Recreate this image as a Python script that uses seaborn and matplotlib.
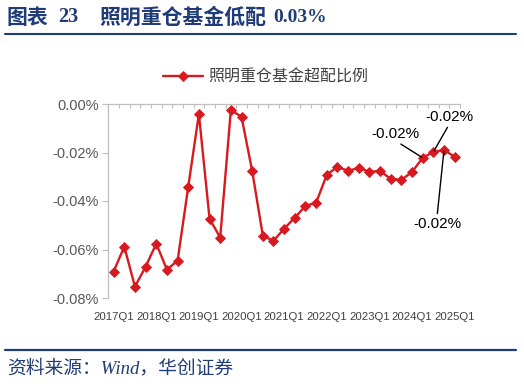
import matplotlib
matplotlib.use("Agg")
import matplotlib.pyplot as plt
import seaborn as sns
import pandas as pd
import numpy as np
from matplotlib.lines import Line2D
from matplotlib.ticker import FixedLocator

# ---------------- data ----------------
quarters = ["2017Q1", "2017Q2", "2017Q3", "2017Q4",
            "2018Q1", "2018Q2", "2018Q3", "2018Q4",
            "2019Q1", "2019Q2", "2019Q3", "2019Q4",
            "2020Q1", "2020Q2", "2020Q3", "2020Q4",
            "2021Q1", "2021Q2", "2021Q3", "2021Q4",
            "2022Q1", "2022Q2", "2022Q3", "2022Q4",
            "2023Q1", "2023Q2", "2023Q3", "2023Q4",
            "2024Q1", "2024Q2", "2024Q3", "2024Q4",
            "2025Q1"]
ratio = [-0.0691, -0.0588, -0.0753, -0.0671,
         -0.0576, -0.0683, -0.0646, -0.0342,
         -0.0041, -0.0473, -0.0551, -0.0025,
         -0.0053, -0.0276, -0.0543, -0.0564,
         -0.0514, -0.0469, -0.0420, -0.0407,
         -0.0292, -0.0259, -0.0276, -0.0263,
         -0.0280, -0.0276, -0.0309, -0.0313,
         -0.0280, -0.0222, -0.0198, -0.0189,
         -0.0218]
yticks = [0.0, -0.02, -0.04, -0.06, -0.08]
xtick_labels = quarters[::4]
series_name = "照明重仓基金超配比例"
annotated = ["2024Q2", "2024Q3", "2024Q4"]

title_left = "图表"
title_num = "23"
title_main = "照明重仓基金低配"
title_val = "0.03%"
source = "资料来源：Wind，华创证券"

# ---------------- style ----------------
RED = "#d71920"
NAVY = "#1f3c78"
GRAY = "#bfbfbf"
TXT = "#595959"

sns.set_style("white")
plt.rcParams["font.family"] = ["Liberation Sans", "Noto Sans CJK SC", "DejaVu Sans"]
plt.rcParams["axes.unicode_minus"] = False

W, H = 524, 384
fig = plt.figure(figsize=(W / 100, H / 100), dpi=100)
L, R, T, B = 108.3, 460, 104, 298
ax = fig.add_axes([L / W, 1 - B / H, (R - L) / W, (B - T) / H])

df = pd.DataFrame({"quarter": quarters, "ratio": ratio})
sns.lineplot(data=df, x="quarter", y="ratio", ax=ax, color=RED, lw=1.7,
             marker="D", markersize=5.6, markeredgecolor=RED,
             markeredgewidth=0.6, label=series_name, sort=False)

n = len(quarters)
ax.set_xlim(-0.5, n - 0.5)
ax.set_ylim(min(yticks), max(yticks))
ax.set_xlabel("")
ax.set_ylabel("")

# y axis
ax.set_yticks(yticks)
ax.set_yticklabels([f"{v:.2f}%" for v in yticks])
ax.tick_params(axis="y", which="major", left=True, direction="out", length=4,
               width=0.8, color=GRAY, labelcolor=TXT, labelsize=10.5, pad=3)

# x axis: labels at bottom, axis line with ticks at the top (y=0)
pos = [quarters.index(q) for q in xtick_labels]
ax.set_xticks(pos)
ax.set_xticklabels(xtick_labels)
ax.tick_params(axis="x", which="major", bottom=False, top=False, length=0,
               labelcolor="#404040", labelsize=8.2, pad=10)
ax.xaxis.set_minor_locator(FixedLocator(np.arange(-0.5, n, 1.0)))
ax.tick_params(axis="x", which="minor", bottom=False, top=True, direction="in",
               length=3, width=0.8, color=GRAY)

for s in ["right", "bottom"]:
    ax.spines[s].set_visible(False)
for s in ["left", "top"]:
    ax.spines[s].set_visible(True)
    ax.spines[s].set_color(GRAY)
    ax.spines[s].set_linewidth(0.9)

# legend
leg = ax.legend(loc="center", bbox_to_anchor=(266 / W, 1 - 77 / H),
                bbox_transform=fig.transFigure, frameon=False, fontsize=11.5,
                handlelength=2.5, numpoints=1, handletextpad=0.35)
for t in leg.get_texts():
    t.set_color("#404040")

# annotations
offsets = [(-27, 24), (16, 35), (-7, -74)]
relposes = [(0.5, 0.0), (0.5, 0.0), (0.5, 1.0)]
for q, off, rp in zip(annotated, offsets, relposes):
    i = quarters.index(q)
    v = ratio[i]
    ax.annotate(f"{round(v, 2):.2f}%", xy=(i, v), xytext=off,
                textcoords="offset pixels", ha="center", va="center",
                fontsize=11, color="black",
                arrowprops=dict(arrowstyle="-", color="black", lw=1.0,
                                shrinkA=0, shrinkB=1, relpos=rp))

# title
fig.text(7 / W, 1 - 17 / H, title_left, ha="left", va="center", fontsize=15,
         fontweight="bold", color=NAVY, family=["Noto Sans CJK SC"])
fig.text(58 / W, 1 - 17.5 / H, title_num, ha="left", va="center", fontsize=14.5,
         fontweight="bold", color=NAVY, family=["Liberation Serif"])
fig.text(99 / W, 1 - 17 / H, title_main, ha="left", va="center", fontsize=15,
         fontweight="bold", color=NAVY, family=["Noto Sans CJK SC"])
fig.text(273 / W, 1 - 17.5 / H, title_val, ha="left", va="center", fontsize=14,
         fontweight="bold", color=NAVY, family=["Liberation Serif"])
fig.add_artist(Line2D([5 / W, 516 / W], [1 - 34.4 / H] * 2, color=NAVY, lw=1.5))

# footer
fig.add_artist(Line2D([5 / W, 516 / W], [1 - 349.6 / H] * 2, color=NAVY, lw=1.6))
fig.text(7 / W, 1 - 368 / H, source, ha="left", va="center", fontsize=13.5,
         style="italic", color=NAVY,
         family=["Liberation Serif", "Noto Sans CJK SC"])

fig.savefig("out.png", dpi=100)
